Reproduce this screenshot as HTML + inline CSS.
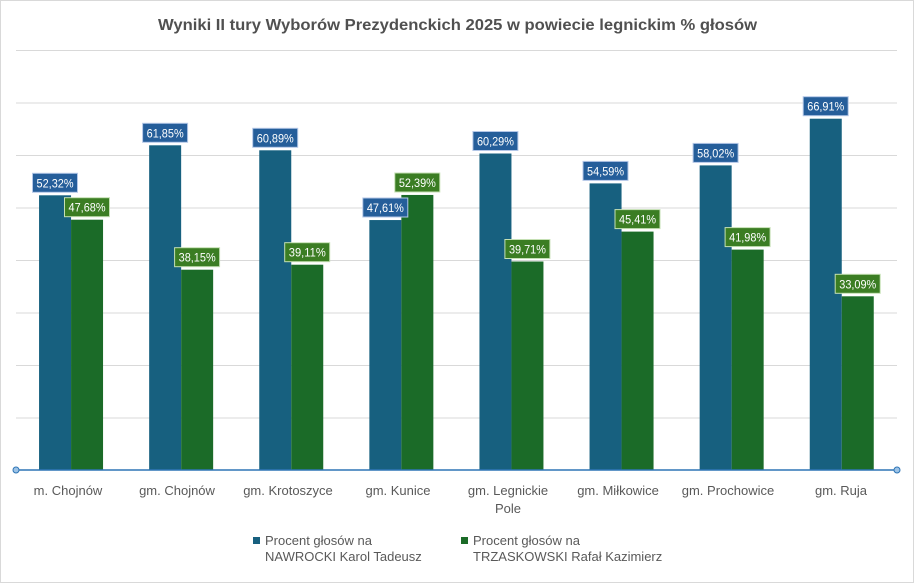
<!DOCTYPE html>
<html><head><meta charset="utf-8"><style>
html,body{margin:0;padding:0;background:#fff}
svg{display:block}
text{font-family:"Liberation Sans",sans-serif}
.dl{font-family:"Liberation Sans Narrow","Liberation Sans",sans-serif;font-size:12px;fill:#fff;text-anchor:middle}
.ax{font-size:13px;fill:#595959;text-anchor:middle}
.lg{font-size:13px;fill:#595959}
.bb{fill:#255e9a;stroke:#b4c7e7;stroke-width:1}
.gb{fill:#3b7d23;stroke:#c5e0b4;stroke-width:1}
</style></head><body>
<svg width="914" height="583" viewBox="0 0 914 583">
<rect x="0.5" y="0.5" width="913" height="582" fill="#fff" stroke="#d9d9d9"/>
<text x="158" y="30" textLength="599" lengthAdjust="spacingAndGlyphs" style="font-size:16px;font-weight:bold;fill:#505050">Wyniki II tury Wyborów Prezydenckich 2025 w powiecie legnickim % głosów</text>
<g stroke="#d9d9d9" stroke-width="1">
<line x1="16" x2="897" y1="50.5" y2="50.5"/><line x1="16" x2="897" y1="103" y2="103"/>
<line x1="16" x2="897" y1="155.5" y2="155.5"/><line x1="16" x2="897" y1="208" y2="208"/>
<line x1="16" x2="897" y1="260.5" y2="260.5"/><line x1="16" x2="897" y1="313" y2="313"/>
<line x1="16" x2="897" y1="365.5" y2="365.5"/><line x1="16" x2="897" y1="418" y2="418"/>
</g>
<g fill="#17607f">
<rect x="39.05" y="195.3" width="32" height="274.7"/>
<rect x="149.15" y="145.3" width="32" height="324.7"/>
<rect x="259.25" y="150.3" width="32" height="319.7"/>
<rect x="369.35" y="220.05" width="32" height="249.95"/>
<rect x="479.45" y="153.5" width="32" height="316.5"/>
<rect x="589.55" y="183.4" width="32" height="286.6"/>
<rect x="699.65" y="165.4" width="32" height="304.6"/>
<rect x="809.75" y="118.7" width="32" height="351.3"/>
</g>
<g fill="#1b6b28">
<rect x="71.05" y="219.7" width="32" height="250.3"/>
<rect x="181.15" y="269.7" width="32" height="200.3"/>
<rect x="291.25" y="264.7" width="32" height="205.3"/>
<rect x="401.35" y="194.95" width="32" height="275.05"/>
<rect x="511.45" y="261.5" width="32" height="208.5"/>
<rect x="621.55" y="231.6" width="32" height="238.4"/>
<rect x="731.65" y="249.6" width="32" height="220.4"/>
<rect x="841.75" y="296.3" width="32" height="173.7"/>
</g>
<line x1="16" x2="897" y1="470" y2="470" stroke="#2e75b6" stroke-width="1.5"/>
<circle cx="16" cy="470" r="3" fill="#9dc3e6" stroke="#2e75b6"/>
<circle cx="897" cy="470" r="3" fill="#9dc3e6" stroke="#2e75b6"/>
<g>
<rect class="bb" x="32.5" y="173.3" width="45" height="19"/><text class="dl" x="55.05" y="187.3" textLength="37" lengthAdjust="spacingAndGlyphs">52,32%</text>
<rect class="gb" x="64.5" y="197.7" width="45" height="19"/><text class="dl" x="87.05" y="211.7" textLength="37" lengthAdjust="spacingAndGlyphs">47,68%</text>
<rect class="bb" x="142.6" y="123.3" width="45" height="19"/><text class="dl" x="165.15" y="137.3" textLength="37" lengthAdjust="spacingAndGlyphs">61,85%</text>
<rect class="gb" x="174.6" y="247.7" width="45" height="19"/><text class="dl" x="197.15" y="261.7" textLength="37" lengthAdjust="spacingAndGlyphs">38,15%</text>
<rect class="bb" x="252.7" y="128.3" width="45" height="19"/><text class="dl" x="275.25" y="142.3" textLength="37" lengthAdjust="spacingAndGlyphs">60,89%</text>
<rect class="gb" x="284.7" y="242.7" width="45" height="19"/><text class="dl" x="307.25" y="256.7" textLength="37" lengthAdjust="spacingAndGlyphs">39,11%</text>
<rect class="bb" x="362.8" y="198" width="45" height="19"/><text class="dl" x="385.35" y="212" textLength="37" lengthAdjust="spacingAndGlyphs">47,61%</text>
<rect class="gb" x="394.8" y="173" width="45" height="19"/><text class="dl" x="417.35" y="187" textLength="37" lengthAdjust="spacingAndGlyphs">52,39%</text>
<rect class="bb" x="472.9" y="131.5" width="45" height="19"/><text class="dl" x="495.45" y="145.5" textLength="37" lengthAdjust="spacingAndGlyphs">60,29%</text>
<rect class="gb" x="504.9" y="239.5" width="45" height="19"/><text class="dl" x="527.45" y="253.5" textLength="37" lengthAdjust="spacingAndGlyphs">39,71%</text>
<rect class="bb" x="583" y="161.4" width="45" height="19"/><text class="dl" x="605.55" y="175.4" textLength="37" lengthAdjust="spacingAndGlyphs">54,59%</text>
<rect class="gb" x="615" y="209.6" width="45" height="19"/><text class="dl" x="637.55" y="223.6" textLength="37" lengthAdjust="spacingAndGlyphs">45,41%</text>
<rect class="bb" x="693.1" y="143.4" width="45" height="19"/><text class="dl" x="715.65" y="157.4" textLength="37" lengthAdjust="spacingAndGlyphs">58,02%</text>
<rect class="gb" x="725.1" y="227.6" width="45" height="19"/><text class="dl" x="747.65" y="241.6" textLength="37" lengthAdjust="spacingAndGlyphs">41,98%</text>
<rect class="bb" x="803.2" y="96.7" width="45" height="19"/><text class="dl" x="825.75" y="110.7" textLength="37" lengthAdjust="spacingAndGlyphs">66,91%</text>
<rect class="gb" x="835.2" y="274.3" width="45" height="19"/><text class="dl" x="857.75" y="288.3" textLength="37" lengthAdjust="spacingAndGlyphs">33,09%</text>
</g>
<text class="ax" x="68" y="495">m. Chojnów</text>
<text class="ax" x="177" y="495">gm. Chojnów</text>
<text class="ax" x="288" y="495">gm. Krotoszyce</text>
<text class="ax" x="398" y="495">gm. Kunice</text>
<text class="ax" x="508" y="495">gm. Legnickie</text>
<text class="ax" x="508" y="513">Pole</text>
<text class="ax" x="618" y="495">gm. Miłkowice</text>
<text class="ax" x="728" y="495">gm. Prochowice</text>
<text class="ax" x="841" y="495">gm. Ruja</text>
<rect x="253" y="537" width="7" height="7" fill="#17607f"/>
<text class="lg" x="265" y="545">Procent głosów na</text>
<text class="lg" x="265" y="561">NAWROCKI Karol Tadeusz</text>
<rect x="461" y="537" width="7" height="7" fill="#1b6b28"/>
<text class="lg" x="473" y="545">Procent głosów na</text>
<text class="lg" x="473" y="561">TRZASKOWSKI Rafał Kazimierz</text>
</svg>
</body></html>
